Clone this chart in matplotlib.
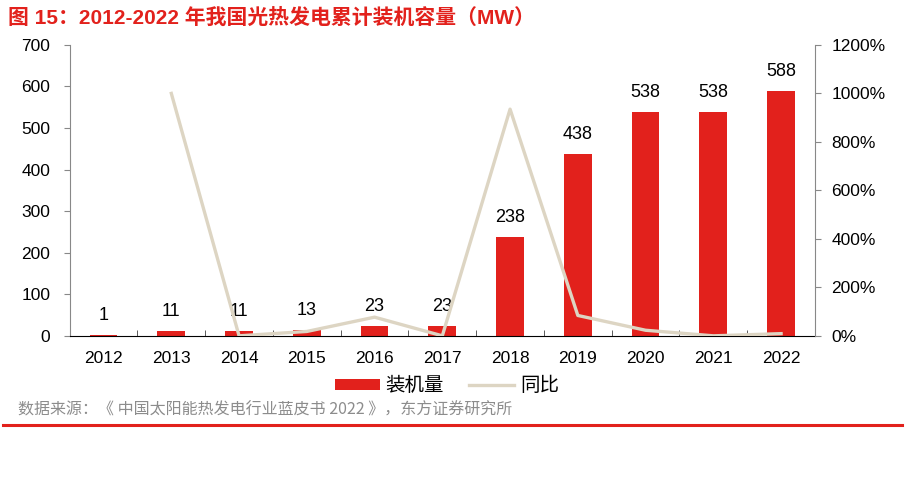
import matplotlib.pyplot as plt
import matplotlib.ticker as mticker
import numpy as np

plt.rcParams['font.family'] = ['Liberation Sans', 'Noto Sans CJK SC', 'DejaVu Sans']

years = ['2012', '2013', '2014', '2015', '2016', '2017', '2018', '2019', '2020', '2021', '2022']
capacity = [1, 11, 11, 13, 23, 23, 238, 438, 538, 538, 588]
yoy = [None, 1000, 0, 18, 77, 0, 935, 84, 23, 0, 9]

RED = '#E2211C'
LINE = '#DDD5C3'

fig = plt.figure(figsize=(9.05, 4.99), dpi=100)
ax = fig.add_axes([0.077, 0.327, 0.8235, 0.583])
x = np.arange(len(years))
ax.bar(x, capacity, width=0.41, color=RED, label='装机量', zorder=2)
for xi, v in zip(x, capacity):
    ax.annotate(str(v), (xi, v), xytext=(0, 8), textcoords='offset points',
                ha='center', va='bottom', fontsize=13)

ax.set_xlim(-0.5, len(years) - 0.5)
ax.set_ylim(0, 700)
ax.set_yticks(range(0, 701, 100))
ax.set_xticks(x)
ax.set_xticklabels(years)
ax.set_xticks(np.arange(0.5, len(years) - 1, 1), minor=True)
ax.tick_params(axis='x', which='major', length=0, labelsize=12.5, pad=11)
ax.tick_params(axis='x', which='minor', length=4, direction='in', color='#404040')
ax.tick_params(axis='y', labelsize=12.5, length=4, color='#888888', pad=10)
ax.spines['top'].set_visible(False)
ax.spines['right'].set_visible(False)
ax.spines['left'].set_color('#888888')
ax.spines['bottom'].set_color('#000000')

ax2 = ax.twinx()
xs = [xi for xi, v in zip(x, yoy) if v is not None]
ys = [v for v in yoy if v is not None]
ax2.plot(xs, ys, color=LINE, lw=2.4, label='同比', zorder=3)
ax2.set_ylim(0, 1200)
ax2.set_yticks(range(0, 1201, 200))
ax2.yaxis.set_major_formatter(mticker.FuncFormatter(lambda v, p: f'{v:.0f}%'))
ax2.tick_params(axis='y', labelsize=12.5, length=4, color='#888888', pad=8)
ax2.spines['top'].set_visible(False)
ax2.spines['left'].set_visible(False)
ax2.spines['bottom'].set_visible(False)
ax2.spines['right'].set_color('#888888')

h1, l1 = ax.get_legend_handles_labels()
h2, l2 = ax2.get_legend_handles_labels()
fig.legend(h1 + h2, l1 + l2, loc='center', bbox_to_anchor=(0.494, 0.226), ncol=2,
           frameon=False, fontsize=14, handlelength=2.3, handleheight=0.5,
           columnspacing=1.3, handletextpad=0.3)

fig.text(0.009, 0.965, '图 15：2012-2022 年我国光热发电累计装机容量（MW）', color=RED,
         fontsize=15, fontweight='bold', ha='left', va='center',
         family=['Liberation Sans', 'Noto Sans CJK SC'])
fig.text(0.02, 0.178, '数据来源：《 中国太阳能热发电行业蓝皮书 2022 》，东方证券研究所', color='#8C8C8C',
         fontsize=11.5, ha='left', va='center', family=['Noto Sans CJK SC', 'DejaVu Sans'])
fig.add_artist(plt.Line2D([0.003, 0.997], [0.148, 0.148], color=RED, lw=2.2,
                          transform=fig.transFigure))

fig.savefig('out.png', dpi=100)
